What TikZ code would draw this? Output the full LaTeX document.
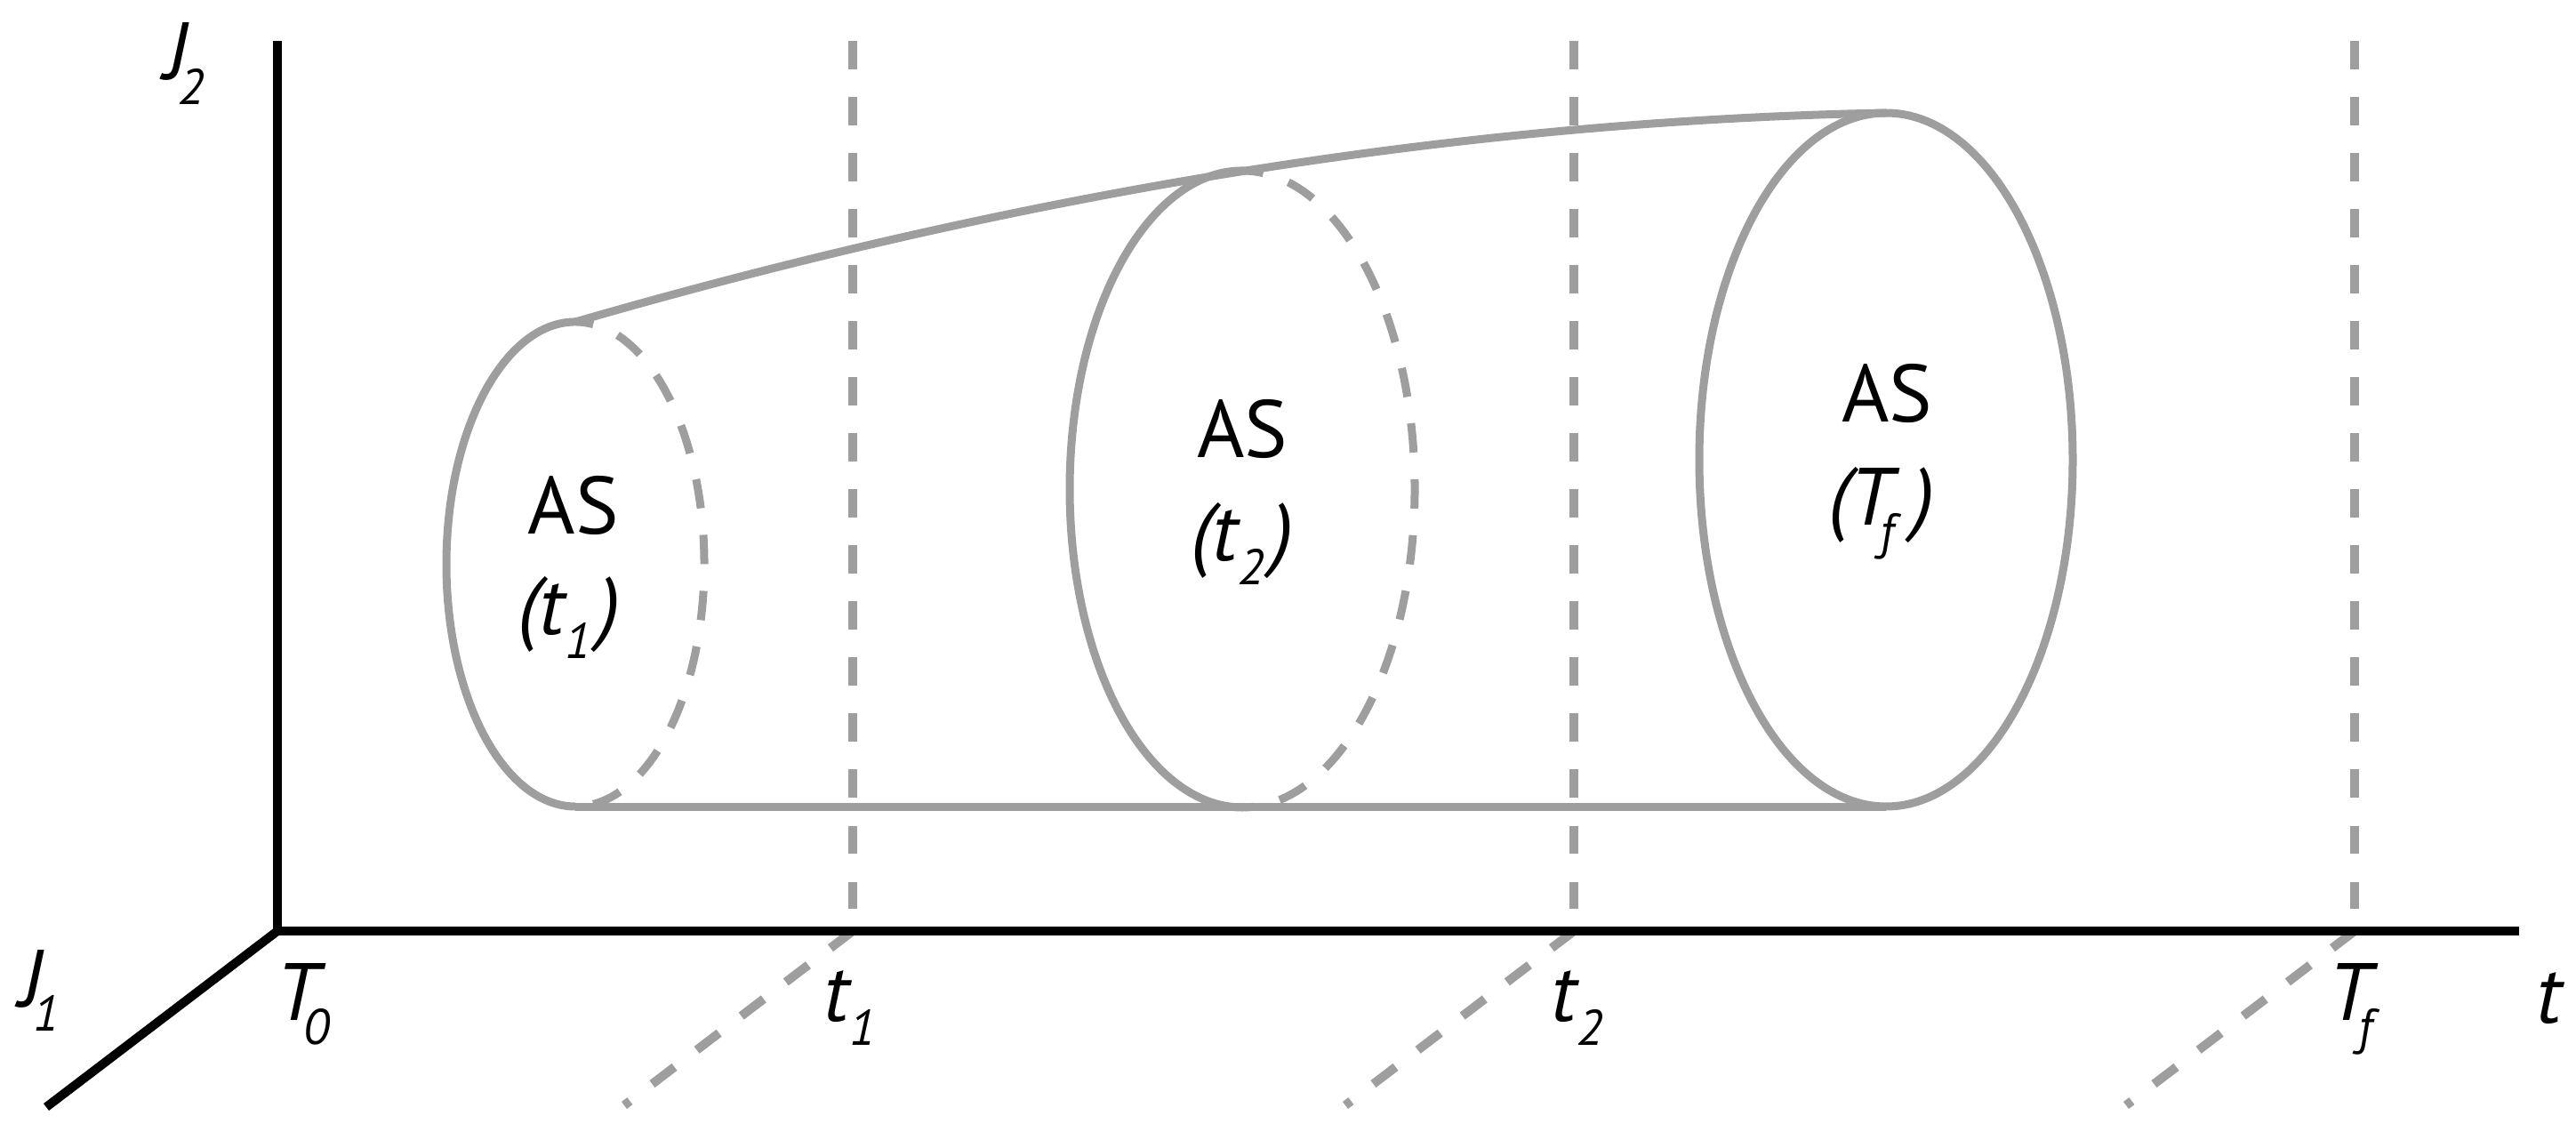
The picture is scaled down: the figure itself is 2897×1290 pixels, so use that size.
\documentclass[tikz,border=0pt]{standalone}
\usepackage{fontspec}
\usetikzlibrary{calc}
\setmainfont{PT Sans}
\definecolor{gr}{RGB}{158,158,158}
\newcommand\subl[3]{{\itshape #1\kern#2\raisebox{-7.7pt}{\fontsize{16}{16}\selectfont #3}}}
\begin{document}
\begin{tikzpicture}[x=0.01cm,y=0.01cm,
  axisline/.style={line width=0.1cm,black},
  cone/.style={line width=0.09cm,gr},
  guide/.style={line width=0.1cm,gr,dash pattern=on 0.315cm off 0.315cm},
  hid/.style={line width=0.09cm,gr,dash pattern=on 0.33cm off 0.3cm,dash phase=0.33cm},
  lbl/.style={inner sep=0,font=\fontsize{26}{30}\selectfont}]
\useasboundingbox (0,0) rectangle (2897,1290);
% axis points
\coordinate (O) at (312,243);
\coordinate (J2end) at (312,1244);
\coordinate (tend) at (2833,243);
\coordinate (J1end) at (52,45);
% guide lines
\foreach \gx/\gn in {959/a,1770/b,2648/c}{
  \coordinate (\gn top) at (\gx,1244);
  \coordinate (\gn bot) at (\gx,268);
  \coordinate (\gn ax) at (\gx,243);
  \coordinate (\gn dg) at (\gx-257,47);
  \draw[guide] (\gn top) -- (\gn bot);
  \draw[guide] (\gn ax) -- (\gn dg);
}
% cone
\coordinate (E1top) at (647,928);
\coordinate (E1bot) at (647,383);
\coordinate (E3top) at (2121,1163);
\coordinate (E3bot) at (2121,383);
\coordinate (E1s) at ($(647,655.5)+(82:145 and 272.5)$);
\coordinate (E2s) at ($(1397,740)+(83:194 and 358)$);
\draw[cone] (E1s) arc[start angle=82,end angle=270,x radius=145,y radius=272.5];
\draw[hid] (E1s) arc[start angle=82,end angle=-90,x radius=145,y radius=272.5];
\draw[cone] (E2s) arc[start angle=83,end angle=270,x radius=194,y radius=358];
\draw[hid] (E2s) arc[start angle=83,end angle=-90,x radius=194,y radius=358];
\draw[cone] (2121,773) ellipse[x radius=210,y radius=390];
\draw[cone] (E1bot) -- (E3bot);
\draw[cone] (E1top) .. controls (1158,1076) and (1649,1154) .. (E3top);
% axes
\draw[axisline] (J2end) -- (O) -- (tend);
\draw[axisline] (O) -- (J1end);
% labels
\node[lbl,anchor=base west] (lJ2) at (185,1200) {\subl{J}{-3pt}{2}};
\node[lbl,anchor=base west] (lJ1) at (22,158) {\subl{J}{-3pt}{1}};
\node[lbl,anchor=base west] (lT0) at (310,143) {\subl{T}{-5pt}{0}};
\node[lbl,anchor=base west] (lt1) at (926,142) {\subl{t}{0pt}{1}};
\node[lbl,anchor=base west] (lt2) at (1744,142) {\subl{t}{0pt}{2}};
\node[lbl,anchor=base west] (lTf) at (2618,143) {\subl{T}{-4pt}{f}};
\node[lbl,anchor=base west] (lt) at (2852,140) {\itshape t};
\node[lbl,anchor=base] (as1) at (645,690) {AS};
\node[lbl,anchor=base] (as1t) at (640,577) {\itshape(\subl{t}{0pt}{1}\kern2.5pt)};
\node[lbl,anchor=base] (as2) at (1397,775) {AS};
\node[lbl,anchor=base] (as2t) at (1397,660) {\itshape(\subl{t}{0pt}{2}\kern2.5pt)};
\node[lbl,anchor=base] (as3) at (2122,815) {AS};
\node[lbl,anchor=base] (as3t) at (2116,700) {\itshape(\subl{T}{-4pt}{f}\kern6pt)};
\end{tikzpicture}
\end{document}
